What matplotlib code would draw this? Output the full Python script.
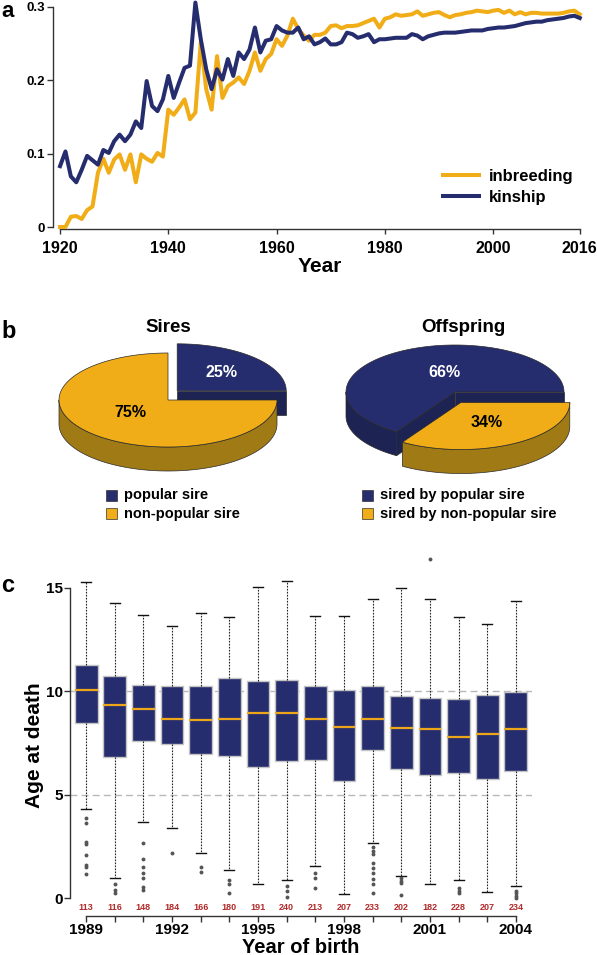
import numpy as np
import matplotlib
matplotlib.use('Agg')
import matplotlib.pyplot as plt
from matplotlib.patches import Polygon, Rectangle

plt.rcParams['font.family'] = ['Liberation Sans', 'DejaVu Sans']
plt.rcParams['font.weight'] = 'bold'

# ---- data ----
# panel a: yearly means 1920-2016
years = np.arange(1920, 2017)
inbreeding = [0.000, 0.000, 0.014, 0.015, 0.011, 0.023, 0.028, 0.074, 0.093, 0.074,
              0.092, 0.099, 0.078, 0.099, 0.061, 0.099, 0.093, 0.089, 0.101, 0.096,
              0.160, 0.153, 0.163, 0.174, 0.147, 0.156, 0.252, 0.188, 0.160, 0.233,
              0.176, 0.192, 0.197, 0.204, 0.195, 0.213, 0.238, 0.213, 0.229, 0.236,
              0.256, 0.247, 0.261, 0.284, 0.270, 0.261, 0.254, 0.262, 0.262, 0.265,
              0.274, 0.275, 0.271, 0.274, 0.274, 0.275, 0.278, 0.281, 0.284, 0.272,
              0.284, 0.286, 0.290, 0.288, 0.289, 0.290, 0.294, 0.288, 0.290, 0.292,
              0.293, 0.289, 0.286, 0.289, 0.290, 0.292, 0.293, 0.295, 0.294, 0.293,
              0.295, 0.296, 0.292, 0.295, 0.290, 0.293, 0.290, 0.292, 0.292, 0.291,
              0.291, 0.291, 0.291, 0.292, 0.294, 0.295, 0.290]
kinship = [0.083, 0.103, 0.069, 0.061, 0.078, 0.097, 0.091, 0.085, 0.105, 0.101,
           0.117, 0.126, 0.117, 0.126, 0.144, 0.135, 0.199, 0.165, 0.158, 0.174,
           0.206, 0.176, 0.197, 0.217, 0.220, 0.306, 0.256, 0.215, 0.188, 0.215,
           0.201, 0.229, 0.206, 0.238, 0.229, 0.242, 0.272, 0.238, 0.254, 0.256,
           0.274, 0.268, 0.265, 0.265, 0.272, 0.256, 0.260, 0.249, 0.252, 0.257,
           0.249, 0.249, 0.252, 0.265, 0.263, 0.258, 0.260, 0.263, 0.252, 0.256,
           0.256, 0.257, 0.258, 0.258, 0.258, 0.263, 0.261, 0.256, 0.260, 0.262,
           0.264, 0.265, 0.265, 0.265, 0.266, 0.267, 0.268, 0.268, 0.268, 0.270,
           0.271, 0.272, 0.272, 0.273, 0.274, 0.276, 0.278, 0.279, 0.280, 0.280,
           0.282, 0.283, 0.284, 0.285, 0.287, 0.288, 0.285]

# panel b: pies
sires_labels = ['popular sire', 'non-popular sire']
sires_pct = [25, 75]
offspring_labels = ['sired by popular sire', 'sired by non-popular sire']
offspring_pct = [66, 34]

# panel c: age at death by year of birth
birth_years = list(range(1989, 2005))
whis_lo = [4.29, 0.98, 3.68, 3.37, 2.19, 1.35, 0.68, 0.87, 1.56, 0.18, 2.68, 1.06, 0.68, 0.87, 0.27, 0.56]
q1 = [8.48, 6.81, 7.61, 7.47, 6.97, 6.87, 6.32, 6.64, 6.68, 5.68, 7.16, 6.24, 5.95, 6.06, 5.74, 6.16]
medians = [10.06, 9.32, 9.13, 8.68, 8.61, 8.68, 8.97, 8.97, 8.66, 8.27, 8.66, 8.21, 8.16, 7.77, 7.93, 8.18]
q3 = [11.27, 10.76, 10.32, 10.27, 10.27, 10.63, 10.51, 10.55, 10.27, 10.06, 10.27, 9.79, 9.66, 9.63, 9.82, 9.97]
whis_hi = [15.27, 14.29, 13.67, 13.18, 13.77, 13.58, 15.06, 15.35, 13.66, 13.66, 14.47, 14.97, 14.47, 13.58, 13.26, 14.37]
outliers = [[3.85, 3.64, 2.72, 2.61, 2.08, 1.60, 1.48, 1.16],
            [0.68, 0.39, 0.26],
            [2.68, 1.87, 1.48, 1.23, 0.95, 0.52, 0.39],
            [2.19],
            [1.48, 1.27],
            [0.87, 0.68, 0.26],
            [],
            [0.58, 0.35, 0.06],
            [1.19, 0.95, 0.47],
            [],
            [2.48, 2.29, 2.13, 1.68, 1.44, 1.19, 0.90, 0.68, 0.26],
            [0.95, 0.84, 0.71, 0.15],
            [16.38],
            [0.47, 0.35, 0.26],
            [],
            [0.35, 0.23, 0.10, 0.0]]
counts = [113, 116, 148, 184, 166, 180, 191, 240, 213, 207, 233, 202, 182, 228, 207, 234]

navy = '#262d6e'
gold = '#f1ad17'
navy_side = '#1d2352'
gold_side = '#a07a14'

W, H = 597, 955
fig = plt.figure(figsize=(W / 100, H / 100), dpi=100)


def px_axes(l, t, r, b):
    return fig.add_axes([l / W, 1 - b / H, (r - l) / W, (b - t) / H])


# ---- panel a ----
ax = px_axes(53, 5, 583, 229)
ax.plot(years, inbreeding, color=gold, lw=2.9, label='inbreeding', clip_on=False, zorder=3)
ax.plot(years, kinship, color=navy, lw=2.9, label='kinship', clip_on=False, zorder=3)
ax.set_xlim(1918.7, 2016.6)
ax.set_ylim(-0.0027, 0.3027)
ax.set_xticks([1920, 1940, 1960, 1980, 2000, 2016])
ax.set_yticks([0, 0.1, 0.2, 0.3])
ax.set_yticklabels(['0', '0.1', '0.2', '0.3'])
for s in ['top', 'right']:
    ax.spines[s].set_visible(False)
ax.spines['left'].set_bounds(0, 0.3)
ax.spines['bottom'].set_bounds(1920, 2016)
for s in ['left', 'bottom']:
    ax.spines[s].set_linewidth(1.0)
    ax.spines[s].set_color('#333333')
ax.tick_params(axis='x', length=3.8, width=1, pad=5, labelsize=11.5, color='#333333')
ax.tick_params(axis='y', length=4.2, width=1, pad=1.5, labelsize=9.5, color='#333333')
for lab in ax.get_xticklabels() + ax.get_yticklabels():
    lab.set_fontweight('bold')
ax.legend(loc='upper left', bbox_to_anchor=(0.735, 0.27), frameon=False, fontsize=12,
          handlelength=2.2, handletextpad=0.55, labelspacing=0.4, borderpad=0, borderaxespad=0)
fig.text(320 / W, 1 - 267 / H, 'Year', fontsize=15, ha='center', va='center')
fig.text(1 / W, 1 - 17 / H, 'a', fontsize=16, va='baseline')

# ---- panel b ----
axb = px_axes(0, 280, 597, 540)
axb.set_xlim(0, W)
axb.set_ylim(540, 280)
axb.axis('off')


def draw_pie3d(cx, cy, values, tops, sides, explode, a=109, b=47, depth=24):
    ang = np.concatenate([[0], np.cumsum(values)]) / sum(values) * 360
    pieces = []
    for i in range(len(values)):
        t1, t2 = ang[i], ang[i + 1]
        tm = np.radians((t1 + t2) / 2)
        ox, oy = explode[i] * np.cos(tm), -explode[i] * np.sin(tm)
        pieces.append((oy, i, t1, t2, cx + ox, cy + oy))
    pieces.sort()
    for oy, i, t1, t2, sx, sy in pieces:
        kw = dict(closed=True, ec='#2a2a2a', lw=0.5)
        # cut faces
        for t, vis in ((t1, np.cos(np.radians(t1)) > 1e-6), (t2, np.cos(np.radians(t2)) < -1e-6)):
            if vis:
                px_, py_ = sx + a * np.cos(np.radians(t)), sy - b * np.sin(np.radians(t))
                axb.add_patch(Polygon([(sx, sy), (px_, py_), (px_, py_ + depth), (sx, sy + depth)],
                                      fc=sides[i], **kw))
        # outer wall (front half only)
        lo, hi = max(t1, 180), min(t2, 360)
        if hi > lo:
            th = np.radians(np.linspace(lo, hi, 120))
            xs = sx + a * np.cos(th)
            ys = sy - b * np.sin(th)
            axb.add_patch(Polygon(np.column_stack([np.r_[xs, xs[::-1]], np.r_[ys, ys[::-1] + depth]]),
                                  fc=sides[i], **kw))
        # top
        th = np.radians(np.linspace(t1, t2, 240))
        pts = np.column_stack([np.r_[sx, sx + a * np.cos(th)], np.r_[sy, sy - b * np.sin(th)]])
        axb.add_patch(Polygon(pts, fc=tops[i], **kw))


draw_pie3d(168, 400, sires_pct, [navy, gold], [navy_side, gold_side], [13, 0])
draw_pie3d(455, 392, offspring_pct, [navy, gold], [navy_side, gold_side], [0, 12])

pct_pos = [[(221, 372), (130, 412)], [(444, 372), (487, 422)]]
for vals, pos in zip([sires_pct, offspring_pct], pct_pos):
    for v, (x, y), c in zip(vals, pos, ['white', 'black']):
        axb.text(x, y, f'{v}%', color=c, fontsize=11.5, ha='center', va='center')

axb.text(168, 327, 'Sires', fontsize=13.5, ha='center', va='center')
axb.text(463, 327, 'Offspring', fontsize=13.5, ha='center', va='center')

for x0, labels in ((106, sires_labels), (362, offspring_labels)):
    for k, (lab, col) in enumerate(zip(labels, [navy, gold])):
        yc = 495 + k * 18.5
        axb.add_patch(Rectangle((x0, yc - 5.5), 11, 11, fc=col, ec='#333333', lw=0.5))
        axb.text(x0 + 18, yc, lab, fontsize=10.5, ha='left', va='center')

fig.text(1 / W, 1 - 338 / H, 'b', fontsize=17, va='baseline')

# ---- panel c ----
axc = px_axes(70, 555, 532, 916)
stats = []
for i, yr in enumerate(birth_years):
    stats.append(dict(whislo=whis_lo[i], q1=q1[i], med=medians[i], q3=q3[i],
                      whishi=whis_hi[i], fliers=outliers[i]))
axc.axhline(5, color='#b8b8b8', lw=1, dashes=(5, 3), zorder=0)
axc.axhline(10, color='#b8b8b8', lw=1, dashes=(5, 3), zorder=0)
axc.bxp(stats, positions=birth_years, widths=0.8, patch_artist=True, showfliers=True,
        boxprops=dict(facecolor=navy, edgecolor='#c4c4c4', lw=1),
        medianprops=dict(color='#eda61a', lw=1.6),
        whiskerprops=dict(color='#222222', lw=0.8, linestyle=(0, (1.5, 1.2))),
        capprops=dict(color='#111111', lw=1),
        flierprops=dict(marker='o', markersize=2.8, markerfacecolor='#555555', markeredgecolor='none'),
        capwidths=0.35, manage_ticks=False)
for yr, n in zip(birth_years, counts):
    axc.text(yr, -0.45, str(n), color='#b22b2b', fontsize=6.5, ha='center', va='center')
axc.set_xlim(1988.44, 2004.56)
axc.set_ylim(-0.87, 16.59)
axc.set_xticks(birth_years[::3])
axc.set_xticks(birth_years, minor=True)
axc.set_yticks([0, 5, 10, 15])
for s in ['top', 'right']:
    axc.spines[s].set_visible(False)
axc.spines['left'].set_bounds(0, 15)
axc.spines['bottom'].set_bounds(1989, 2004)
for s in ['left', 'bottom']:
    axc.spines[s].set_linewidth(1.0)
    axc.spines[s].set_color('#333333')
axc.tick_params(axis='x', which='both', length=4.3, width=1, pad=0.5, labelsize=11, color='#333333')
axc.tick_params(axis='y', length=4.3, width=1, pad=1, labelsize=11, color='#333333')
for lab in axc.get_xticklabels() + axc.get_yticklabels():
    lab.set_fontweight('bold')
fig.text(34 / W, 1 - 745 / H, 'Age at death', fontsize=15, rotation=90, ha='center', va='center')
fig.text(301 / W, 1 - 947 / H, 'Year of birth', fontsize=14.5, ha='center', va='center')
fig.text(1 / W, 1 - 591.5 / H, 'c', fontsize=17, va='baseline')

fig.savefig('out.png', dpi=100)
